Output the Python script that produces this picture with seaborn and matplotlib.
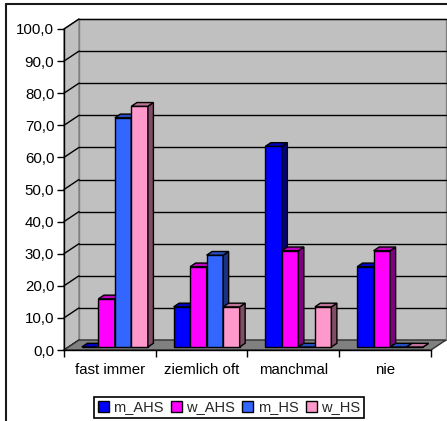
import numpy as np
import pandas as pd
import matplotlib
matplotlib.use("Agg")
import matplotlib.pyplot as plt
import seaborn as sns
from matplotlib.patches import Polygon, Patch, Rectangle
from matplotlib.lines import Line2D
from matplotlib.transforms import offset_copy, IdentityTransform
from matplotlib.colors import to_rgb

# --- data -------------------------------------------------------------
categories = ["fast immer", "ziemlich oft", "manchmal", "nie"]
groups = ["m_AHS", "w_AHS", "m_HS", "w_HS"]
m_AHS = [0.0, 12.5, 62.5, 25.0]
w_AHS = [15.0, 25.0, 30.0, 30.0]
m_HS = [71.4, 28.6, 0.0, 0.0]
w_HS = [75.0, 12.5, 12.5, 0.0]
y_ticks = list(range(0, 101, 10))
colors = ["#0000FF", "#FF00FF", "#3366FF", "#FF99CC"]

df = pd.DataFrame({
    "Kategorie": categories * 4,
    "Gruppe": [g for g in groups for _ in categories],
    "Prozent": m_AHS + w_AHS + m_HS + w_HS,
})

sns.set_theme(style="white")
plt.rcParams["font.family"] = ["Liberation Sans", "DejaVu Sans"]

W, H = 447, 421
fig = plt.figure(figsize=(W / 100, H / 100), dpi=100)
fig.patch.set_facecolor("white")


def fx(x):
    return x / W


def fy(y):
    return 1 - y / H


ax = fig.add_axes([fx(64), fy(350), (431 - 64) / W, (350 - 29) / H])
ax.set_facecolor("none")

sns.barplot(data=df, x="Kategorie", y="Prozent", hue="Gruppe",
            order=categories, hue_order=groups, palette=colors,
            width=0.72, gap=0, saturation=1, edgecolor="black",
            linewidth=1, legend=False, ax=ax)
bars = sorted([p for p in ax.patches if isinstance(p, Rectangle)],
              key=lambda p: p.get_x())
ax.set_xlabel("")
ax.set_ylabel("")
ax.set_xlim(-0.5, 3.5)
ax.set_ylim(0, 100)
ax.grid(False)

# depth offsets (pixels) for the wall and for the columns
WALL_DX, WALL_DY = 15, 10
BAR_SHIFT_X, BAR_SHIFT_Y = 5, 3
BAR_DX, BAR_DY = 5.5, 3.7

wall_tr = offset_copy(ax.transData, fig=fig, x=WALL_DX, y=WALL_DY, units="dots")
ident = IdentityTransform()


def disp(x, y, dx=0.0, dy=0.0):
    p = ax.transData.transform((x, y))
    return (p[0] + dx, p[1] + dy)


# back wall with gridlines
ax.add_patch(Rectangle((-0.5, 0), 4, 100, transform=wall_tr, facecolor="#C0C0C0",
                       edgecolor="#808080", lw=1, zorder=0.5, clip_on=False))
for v in y_ticks[1:]:
    ax.add_line(Line2D([-0.5, 3.5], [v, v], transform=wall_tr, color="black",
                       lw=1, zorder=0.6, clip_on=False))

# left side wall with its diagonal grid
side = [disp(-0.5, 0), disp(-0.5, 100), disp(-0.5, 100, WALL_DX, WALL_DY),
        disp(-0.5, 0, WALL_DX, WALL_DY)]
ax.add_patch(Polygon(side, closed=True, transform=ident, facecolor="#C0C0C0",
                     edgecolor="#808080", lw=1, zorder=0.5, clip_on=False))
for v in y_ticks:
    a = disp(-0.5, v)
    b = disp(-0.5, v, WALL_DX, WALL_DY)
    ax.add_line(Line2D([a[0], b[0]], [a[1], b[1]], transform=ident,
                       color="black", lw=1, zorder=0.7, clip_on=False))

# floor
floor = [disp(-0.5, 0), disp(3.5, 0), disp(3.5, 0, WALL_DX, WALL_DY),
         disp(-0.5, 0, WALL_DX, WALL_DY)]
ax.add_patch(Polygon(floor, closed=True, transform=ident, facecolor="#808080",
                     edgecolor="#303030", lw=1, zorder=0.8, clip_on=False))

# columns: shift front faces and add top / side faces
bar_tr = offset_copy(ax.transData, fig=fig, x=BAR_SHIFT_X, y=BAR_SHIFT_Y, units="dots")
for i, bar in enumerate(bars):
    z = 3 + i * 0.1
    bar.set_transform(bar_tr)
    bar.set_clip_on(False)
    bar.set_zorder(z)
    x0 = bar.get_x()
    x1 = x0 + bar.get_width()
    h = bar.get_height()
    rgb = np.array(to_rgb(bar.get_facecolor()))
    fl = bar_tr.transform((x0, h))
    fr = bar_tr.transform((x1, h))
    br = bar_tr.transform((x1, 0))
    top = [fl, fr, (fr[0] + BAR_DX, fr[1] + BAR_DY), (fl[0] + BAR_DX, fl[1] + BAR_DY)]
    sd = [br, fr, (fr[0] + BAR_DX, fr[1] + BAR_DY), (br[0] + BAR_DX, br[1] + BAR_DY)]
    ax.add_patch(Polygon(sd, closed=True, transform=ident, facecolor=rgb * 0.5,
                         edgecolor="black", lw=1, zorder=z + 0.01, clip_on=False))
    ax.add_patch(Polygon(top, closed=True, transform=ident, facecolor=rgb * 0.75,
                         edgecolor="black", lw=1, zorder=z + 0.02, clip_on=False))

# axes, ticks and labels
for s in ["top", "right"]:
    ax.spines[s].set_visible(False)
for s in ["left", "bottom"]:
    ax.spines[s].set_visible(True)
    ax.spines[s].set_color("black")
    ax.spines[s].set_linewidth(1)

ax.set_yticks(y_ticks)
ax.set_yticklabels([f"{v:.1f}".replace(".", ",") for v in y_ticks])
ax.set_xticks(range(len(categories)))
ax.set_xticklabels(categories)
ax.set_xticks(np.arange(-0.5, 4, 1), minor=True)
ax.tick_params(axis="y", direction="out", length=5, width=1, color="black",
               labelsize=10.8, labelcolor="black", pad=2, left=True)
ax.tick_params(axis="x", which="major", length=0, labelsize=10.8,
               labelcolor="black", pad=9)
ax.tick_params(axis="x", which="minor", direction="out", length=5, width=1,
               color="black", bottom=True)

# legend
handles = [Patch(facecolor=c, edgecolor="black", lw=1, label=g)
           for g, c in zip(groups, colors)]
leg = fig.legend(handles=handles, loc="center", bbox_to_anchor=(fx(229), fy(407.5)),
                 ncol=4, frameon=True, fancybox=False, edgecolor="black",
                 framealpha=1, fontsize=10.5, handlelength=0.75,
                 handleheight=0.75, handletextpad=0.3, columnspacing=0.5,
                 borderpad=0.25, borderaxespad=0)
leg.get_frame().set_linewidth(1.2)

# outer chart frame
fig.add_artist(Line2D([fx(6), fx(6)], [fy(4), 0], transform=fig.transFigure,
                      color="#1a1a1a", lw=1.5))
fig.add_artist(Line2D([fx(6), 1], [fy(4), fy(4)], transform=fig.transFigure,
                      color="#1a1a1a", lw=1.5))

fig.savefig("out.png", dpi=100)
